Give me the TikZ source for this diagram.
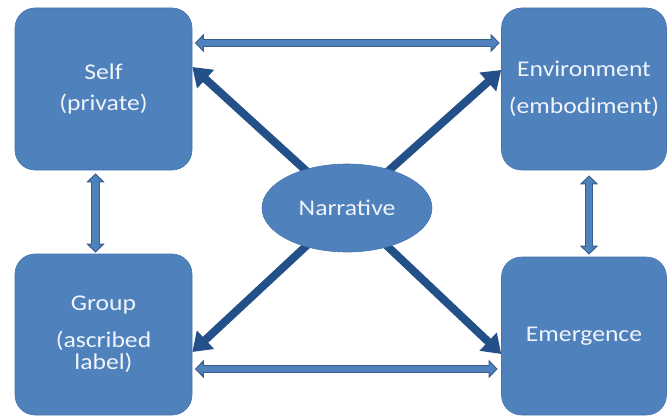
\documentclass[tikz,border=0pt]{standalone}
\usepackage{fontspec}
\setmainfont{Carlito}[FakeStretch=1.14]
\usetikzlibrary{arrows.meta,shapes.geometric,backgrounds}

\definecolor{boxblue}{RGB}{79,129,189}
\definecolor{boxedge}{RGB}{70,117,174}
\definecolor{diagblue}{RGB}{35,80,136}
\definecolor{arrowedge}{RGB}{56,93,138}
\definecolor{labeltext}{RGB}{240,244,250}

\begin{document}
\begin{tikzpicture}[x=1pt,y=-1pt,
  box/.style={rectangle, rounded corners=20pt, fill=boxblue, draw=boxedge,
    line width=0.6pt, text=labeltext, align=center, inner sep=0pt,
    font=\fontsize{22.5}{22}\selectfont},
  hubshape/.style={ellipse, fill=boxblue, draw=boxedge, line width=0.6pt,
    text=labeltext, inner sep=0pt, minimum width=170pt, minimum height=88pt,
    font=\fontsize{22.5}{22}\selectfont},
  blockarrow/.style={draw=arrowedge, line width=8.5pt,
    {Triangle[length=9pt,width=18pt,line width=1pt,fill=boxblue]}-{Triangle[length=9pt,width=18pt,line width=1pt,fill=boxblue]},
    postaction={draw=boxblue, line width=6.5pt, arrows=-, shorten <=7pt, shorten >=7pt}},
  spoke/.style={draw=diagblue, line width=8pt,
    -{Triangle[length=18pt,width=24pt]}}]

\useasboundingbox (0,0) rectangle (668,417);

% the four corner boxes
\node[box, minimum width=177pt, minimum height=162pt] (self) at (103.5,89)
  {Self\\[9pt](private)};
\node[box, minimum width=165pt, minimum height=162pt] (env) at (584,89)
  {Environment\\[15pt](embodiment)};
\node[box, minimum width=177pt, minimum height=161pt] (group) at (103.5,334.5)
  {Group\\[15pt](ascribed\\label)};
\node[box, minimum width=165pt, minimum height=158pt] (emer) at (584,336)
  {Emergence};

% central hub
\node[hubshape] (nar) at (347,208) {Narrative};

% spoke end points on the box sides
\coordinate (selfTip) at ([yshift=22pt]self.east);
\coordinate (envTip) at ([yshift=19pt]env.west);
\coordinate (groupTip) at ([yshift=-17.5pt]group.east);
\coordinate (emerTip) at ([yshift=-18pt]emer.west);

\begin{scope}[on background layer]
  \draw[spoke] (nar.center) -- (selfTip);
  \draw[spoke] (nar.center) -- (envTip);
  \draw[spoke] (nar.center) -- (groupTip);
  \draw[spoke] (nar.center) -- (emerTip);
\end{scope}

% two-way links between neighbouring boxes
\draw[blockarrow] ([xshift=2.5pt,yshift=46pt]self.east) -- ([xshift=-1.5pt,yshift=46pt]env.west);
\draw[blockarrow] ([xshift=2.5pt,yshift=-34.5pt]group.east) -- ([xshift=-3.5pt,yshift=-33pt]emer.west);
\draw[blockarrow] ([xshift=-8pt,yshift=-3pt]self.south) -- ([xshift=-8pt,yshift=1pt]group.north);
\draw[blockarrow] ([xshift=5pt,yshift=-5pt]env.south) -- ([xshift=5pt,yshift=2pt]emer.north);
\end{tikzpicture}
\end{document}
